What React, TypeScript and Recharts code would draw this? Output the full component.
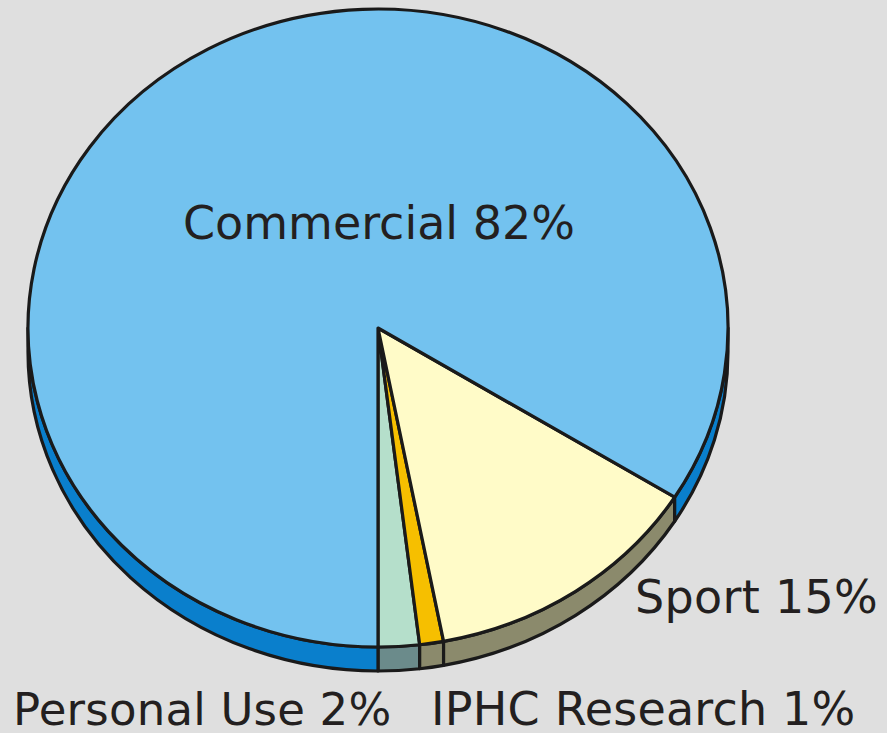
import React from "react";
import { PieChart, Pie, Cell } from "recharts";

// Slice order follows the picture, starting at 6 o'clock and going round to the right.
const categories = ["Personal Use", "IPHC Research", "Sport", "Commercial"];
const sliceShares = [1.9, 1.1, 13.1, 83.9];
// Percent text printed on the chart
const labelPercents = ["2%", "1%", "15%", "82%"];

const topColors = ["#b5dfcb", "#f6bf00", "#fffbc8", "#73c2ef"];
const sideColors = ["#6b8b8b", "#8b8a6c", "#8b8a6c", "#0a7fcc"];

const data = categories.map((name, i) => ({
  name,
  value: sliceShares[i],
  percent: labelPercents[i],
  top: topColors[i],
  side: sideColors[i],
}));

const TILT = 319 / 350;
const DEPTH = 24;
const STROKE = "#1a1a1a";
const SW = 3.2;

function pt(cx: number, cy: number, rx: number, ry: number, a: number, dy = 0) {
  const r = (a * Math.PI) / 180;
  return [cx + rx * Math.cos(r), cy - ry * Math.sin(r) + dy];
}

function SliceShape(props: any) {
  const { cx, cy, outerRadius, startAngle, endAngle, payload } = props;
  const entry = payload && payload.top ? payload : props;
  const rx = outerRadius;
  const ry = outerRadius * TILT;
  const a1 = Math.min(startAngle, endAngle);
  const a2 = Math.max(startAngle, endAngle);
  const sides: string[] = [];
  for (const [lo, hi] of [
    [-180, 0],
    [180, 360],
  ]) {
    const b1 = Math.max(a1, lo);
    const b2 = Math.min(a2, hi);
    if (b2 > b1 + 0.01) {
      const p1 = pt(cx, cy, rx, ry, b1);
      const p2 = pt(cx, cy, rx, ry, b2);
      const q2 = pt(cx, cy, rx, ry, b2, DEPTH);
      const q1 = pt(cx, cy, rx, ry, b1, DEPTH);
      const large = b2 - b1 > 180 ? 1 : 0;
      sides.push(
        `M${p1[0]},${p1[1]} A${rx},${ry} 0 ${large} 0 ${p2[0]},${p2[1]} L${q2[0]},${q2[1]} A${rx},${ry} 0 ${large} 1 ${q1[0]},${q1[1]} Z`
      );
    }
  }
  const s = pt(cx, cy, rx, ry, a1);
  const e = pt(cx, cy, rx, ry, a2);
  const large = a2 - a1 > 180 ? 1 : 0;
  const topPath = `M${cx},${cy} L${s[0]},${s[1]} A${rx},${ry} 0 ${large} 0 ${e[0]},${e[1]} Z`;
  return (
    <g>
      {sides.map((d, i) => (
        <path key={i} d={d} fill={entry.side} stroke={STROKE} strokeWidth={SW} strokeLinejoin="round" />
      ))}
      <path d={topPath} fill={entry.top} stroke={STROKE} strokeWidth={SW} strokeLinejoin="round" />
    </g>
  );
}

const baseLabelStyle = {
  fontFamily: "'DejaVu Sans', Verdana, sans-serif",
  fill: "#231f20",
};

function renderLabel(props: any) {
  const { cx, cy, name, index } = props;
  const text = `${name} ${labelPercents[index]}`;
  let x = cx;
  let y = cy;
  let size = 46;
  let spacing = 0;
  let anchor: "start" | "middle" = "start";
  if (name === "Commercial") {
    x = cx + 1;
    y = cy - 89;
    anchor = "middle";
  } else if (name === "Sport") {
    x = cx + 257;
    y = cy + 285;
    spacing = 0.3;
  } else if (name === "Personal Use") {
    x = cx - 365;
    y = cy + 397;
    size = 45;
    spacing = 0.2;
  } else {
    x = cx + 53;
    y = cy + 397;
    spacing = 0.2;
  }
  return (
    <text
      key={name}
      x={x}
      y={y}
      textAnchor={anchor}
      style={{ ...baseLabelStyle, fontSize: size, letterSpacing: spacing }}
    >
      {text}
    </text>
  );
}

export default function App() {
  return (
    <div
      style={{
        position: "absolute",
        left: 0,
        top: 0,
        width: 887,
        height: 733,
        background: "#dfdfdf",
        overflow: "hidden",
      }}
    >
      <PieChart width={887} height={733} margin={{ top: 0, right: 0, bottom: 0, left: 0 }}>
        <Pie
          data={data}
          dataKey="value"
          nameKey="name"
          cx={378}
          cy={328}
          innerRadius={0}
          outerRadius={350}
          startAngle={-90}
          endAngle={270}
          stroke="none"
          isAnimationActive={false}
          label={renderLabel}
          labelLine={false}
          shape={SliceShape}
          activeShape={SliceShape}
          inactiveShape={SliceShape}
        >
          {data.map((d) => (
            <Cell key={d.name} fill={d.top} />
          ))}
        </Pie>
      </PieChart>
    </div>
  );
}
